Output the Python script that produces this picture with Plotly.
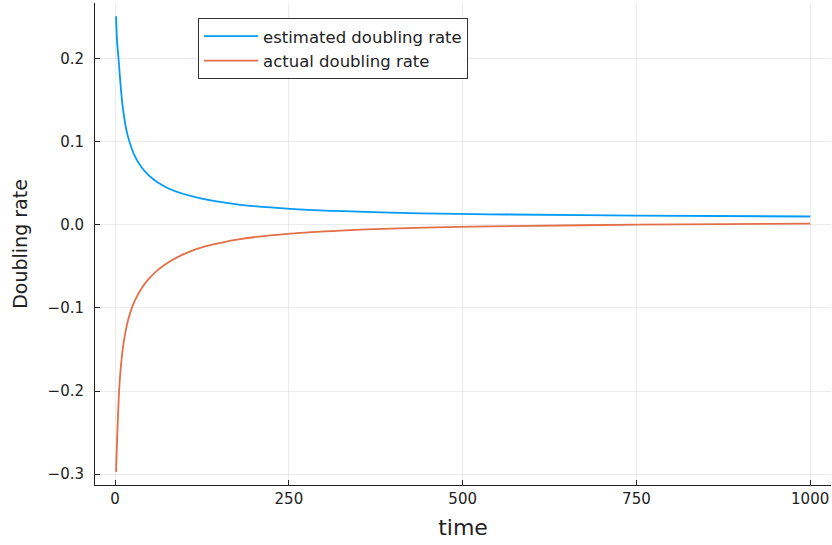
import plotly.graph_objects as go

# values
time_est = [1.3, 2.7, 4.8, 10.6, 17.8, 29.8, 48, 76.8, 124.8, 180, 252, 396, 492, 569, 752, 1000]
estimated_rate = [0.251, 0.222, 0.2008, 0.1440, 0.1083, 0.0803, 0.0598, 0.0438, 0.0315,
                  0.0242, 0.0193, 0.0147, 0.0132, 0.0125, 0.0112, 0.0101]

time_act = [1.3, 2.7, 5.6, 8.5, 12, 16.8, 21.5, 28.8, 38.4, 48, 62.4, 81.6, 105.6, 129.6,
            180, 252, 324, 396, 492, 569, 752, 1000]
actual_rate = [-0.2972, -0.2619, -0.2016, -0.1684, -0.1429, -0.1209, -0.1062, -0.0903,
               -0.0759, -0.0653, -0.0535, -0.0425, -0.0328, -0.0260, -0.0171, -0.0105,
               -0.0068, -0.0045, -0.0025, -0.0014, 0.0002, 0.0015]

x_ticks = [0, 250, 500, 750, 1000]
y_ticks = [-0.3, -0.2, -0.1, 0.0, 0.1, 0.2]
y_tick_labels = ["\u22120.3", "\u22120.2", "\u22120.1", "0.0", "0.1", "0.2"]

FONT = "DejaVu Sans"
TXT = "#222222"

fig = go.Figure()
fig.add_trace(go.Scatter(x=time_est, y=estimated_rate, mode="lines",
                         name="estimated doubling rate",
                         line=dict(color="#009AFA", width=1.8, shape="spline", smoothing=0.8)))
fig.add_trace(go.Scatter(x=time_act, y=actual_rate, mode="lines",
                         name="actual doubling rate",
                         line=dict(color="#E36F47", width=1.8, shape="spline", smoothing=0.8)))

axis_common = dict(
    showline=True, linecolor="#222222", linewidth=1,
    showgrid=True, gridcolor="rgba(0,0,0,0.08)", gridwidth=1,
    zeroline=False, ticks="inside", ticklen=5, tickcolor="#222222", tickwidth=1,
    tickfont=dict(family=FONT, size=15, color=TXT),
    mirror=False, automargin=False,
)

fig.update_layout(
    width=832, height=545,
    margin=dict(l=95, r=1, t=3, b=60),
    paper_bgcolor="white", plot_bgcolor="white",
    font=dict(family=FONT, color=TXT),
    showlegend=True,
    legend=dict(x=0.14, y=0.969, xanchor="left", yanchor="top",
                bgcolor="white", bordercolor="#333333", borderwidth=1,
                font=dict(family=FONT, size=16.5, color=TXT),
                itemwidth=54, tracegroupgap=0),
    xaxis=dict(range=[-28.97, 1029.97], tickvals=x_ticks,
               title=dict(text="time", font=dict(family=FONT, size=22, color=TXT), standoff=12),
               **axis_common),
    yaxis=dict(range=[-0.313, 0.267], tickvals=y_ticks, ticktext=y_tick_labels,
               title=dict(text="Doubling rate", font=dict(family=FONT, size=19, color=TXT), standoff=14),
               ticklabelstandoff=7,
               **axis_common),
)

fig.write_html("out.html",
               config={"displayModeBar": False},
               post_script="document.body.style.margin='0';document.body.style.overflow='hidden';")
